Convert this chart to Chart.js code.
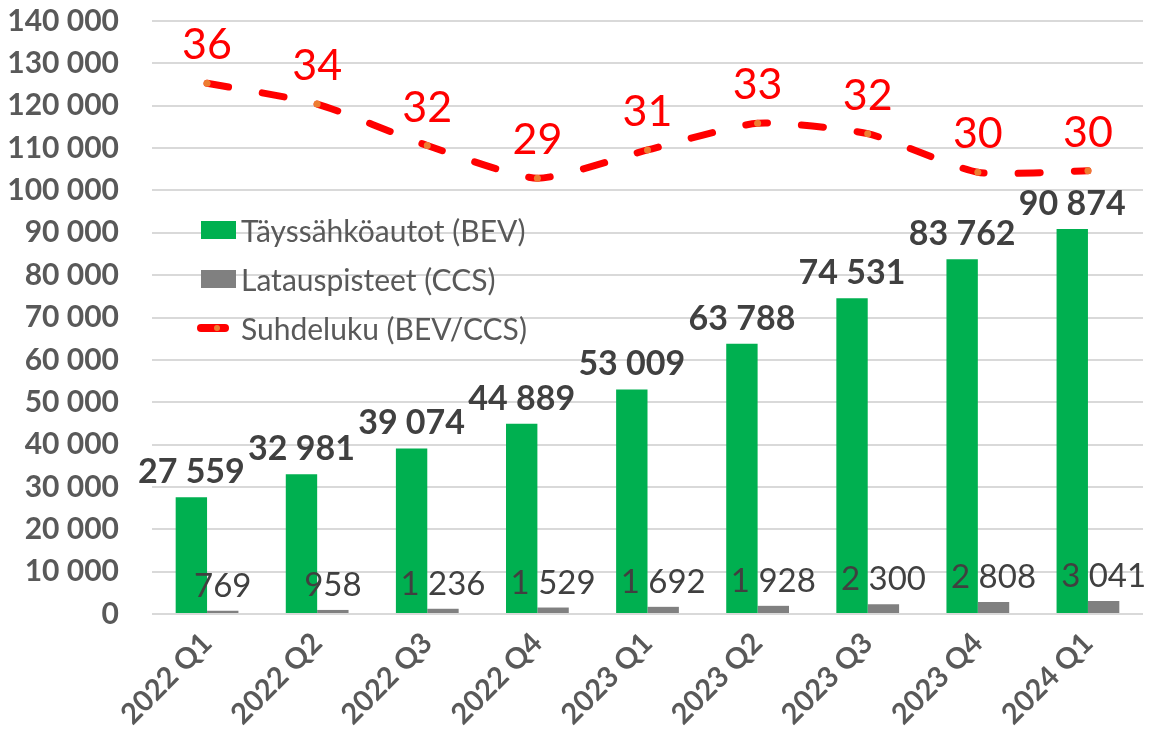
<!DOCTYPE html>
<html>
<head>
<meta charset="utf-8">
<script src="https://cdn.jsdelivr.net/npm/chart.js@4/dist/chart.umd.min.js"></script>
<style>
  html, body { margin: 0; padding: 0; background: #fff; }
  #wrap { position: relative; width: 1149px; height: 739px; }
  #legend { position: absolute; left: 196px; top: 205px; font-family: Lato, sans-serif; font-size: 30px; color: #595959; }
  .item { display: flex; align-items: center; height: 49px; }
  .box { width: 35px; height: 18px; margin-right: 5px; margin-left: 5px; }
  .line { position: relative; width: 32px; height: 8px; border-radius: 4px; background: #ff0000; margin-right: 12px; margin-left: 1px; }
  .line span { position: absolute; left: 17px; top: 1px; width: 6px; height: 6px; border-radius: 3px; background: #ed7d31; }
</style>
</head>
<body>
<div id="wrap">
  <canvas id="chart" width="1149" height="739"></canvas>
  <div id="legend">
    <div class="item"><div class="box" style="background:#00b050"></div>Täyssähköautot (BEV)</div>
    <div class="item"><div class="box" style="background:#808080"></div>Latauspisteet (CCS)</div>
    <div class="item"><div class="line"><span></span></div>Suhdeluku (BEV/CCS)</div>
  </div>
</div>
<script>
const quarters = ["2022 Q1", "2022 Q2", "2022 Q3", "2022 Q4", "2023 Q1", "2023 Q2", "2023 Q3", "2023 Q4", "2024 Q1"];
const bevCars = [27559, 32981, 39074, 44889, 53009, 63788, 74531, 83762, 90874];
const ccsPoints = [769, 958, 1236, 1529, 1692, 1928, 2300, 2808, 3041];
const ratio = [35.8, 34.4, 31.6, 29.4, 31.3, 33.1, 32.4, 29.8, 29.9];

const fmt = (v) => String(v).replace(/\B(?=(\d{3})+(?!\d))/g, " ");

const labelPlugin = {
  id: "valueLabels",
  afterDatasetsDraw(chart) {
    const { ctx } = chart;
    ctx.save();
    ctx.textAlign = "center";
    ctx.textBaseline = "alphabetic";

    chart.getDatasetMeta(0).data.forEach((bar, i) => {
      ctx.font = "bold 34px Lato";
      ctx.fillStyle = "#404040";
      ctx.fillText(fmt(bevCars[i]), bar.x, bar.y - 14);
    });
    chart.getDatasetMeta(1).data.forEach((bar, i) => {
      ctx.font = "33px Lato";
      ctx.fillStyle = "#404040";
      ctx.fillText(fmt(ccsPoints[i]), bar.x, bar.y - 14);
    });
    chart.getDatasetMeta(2).data.forEach((pt, i) => {
      ctx.font = "43px Lato";
      ctx.fillStyle = "#ff0000";
      ctx.fillText(String(Math.round(ratio[i])), pt.x, pt.y - 24);
    });
    ctx.restore();
  },
};

new Chart(document.getElementById("chart"), {
  data: {
    labels: quarters,
    datasets: [
      {
        type: "bar",
        label: "Täyssähköautot (BEV)",
        data: bevCars,
        backgroundColor: "#00b050",
        categoryPercentage: 0.57,
        barPercentage: 1.0,
        yAxisID: "y",
        order: 2,
      },
      {
        type: "bar",
        label: "Latauspisteet (CCS)",
        data: ccsPoints,
        backgroundColor: "#808080",
        categoryPercentage: 0.57,
        barPercentage: 1.0,
        yAxisID: "y",
        order: 2,
      },
      {
        type: "line",
        label: "Suhdeluku (BEV/CCS)",
        data: ratio,
        borderColor: "#ff0000",
        borderWidth: 7,
        borderDash: [22, 34],
        borderCapStyle: "round",
        tension: 0.2,
        pointRadius: 3.5,
        pointBorderWidth: 0,
        pointBackgroundColor: "#ed7d31",
        yAxisID: "y1",
        order: 0,
      },
    ],
  },
  options: {
    responsive: false,
    animation: false,
    layout: { padding: { top: 6, right: 6, left: 0, bottom: 0 } },
    plugins: {
      legend: { display: false },
      tooltip: { enabled: false },
    },
    scales: {
      x: {
        grid: { display: false },
        border: { display: false },
        ticks: {
          color: "#595959",
          font: { family: "Lato", size: 29, weight: "bold" },
          minRotation: 45,
          maxRotation: 45,
          padding: 4,
        },
        afterFit(scale) { scale.height = 125; },
      },
      y: {
        min: 0,
        max: 140000,
        border: { display: false },
        grid: { color: "#d9d9d9", lineWidth: 2, drawTicks: true, tickLength: 30, tickColor: "rgba(0,0,0,0)" },
        ticks: {
          stepSize: 10000,
          color: "#595959",
          padding: 3,
          font: { family: "Lato", size: 30, weight: "bold" },
          callback: (v) => fmt(v),
        },
        afterFit(scale) { scale.width = 152; },
      },
      y1: {
        display: false,
        min: 0,
        max: 40,
      },
    },
  },
  plugins: [labelPlugin],
});
</script>
</body>
</html>
